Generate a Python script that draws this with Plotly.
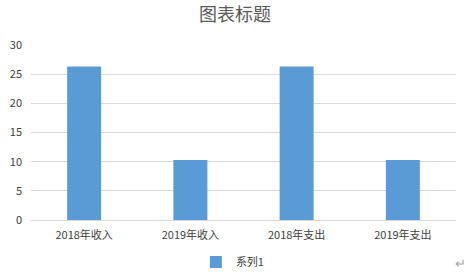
import plotly.graph_objects as go

categories = ["2018年收入", "2019年收入", "2018年支出", "2019年支出"]
values = [26.3, 10.3, 26.3, 10.3]
series_name = "系列1"
y_ticks = [0, 5, 10, 15, 20, 25, 30]

font_family = "Noto Sans CJK SC, Noto Sans, sans-serif"

fig = go.Figure()
fig.add_trace(go.Bar(x=categories, y=values, name=series_name,
                     marker=dict(color="#5B9BD5", line=dict(width=0)),
                     showlegend=True))

fig.update_layout(
    width=470, height=274,
    margin=dict(l=31, r=14, t=45, b=54, autoexpand=False),
    paper_bgcolor="white", plot_bgcolor="white",
    bargap=0.68,
    font=dict(family=font_family, size=11, color="#404040"),
    title=dict(text="图表标题", x=0.5, xanchor="center", y=1 - 15/274, yanchor="middle",
               yref="container", font=dict(size=18, color="#595959", family=font_family)),
    legend=dict(orientation="h", x=0.475, xanchor="center", yref="container",
                y=1 - 262/274, yanchor="middle", font=dict(size=11, color="#404040"),
                itemwidth=30),
    xaxis=dict(showgrid=False, showline=True, linecolor="#D9D9D9", linewidth=1,
               ticks="", tickfont=dict(size=11, color="#404040"), ticklabelstandoff=5,
               automargin=False),
    yaxis=dict(range=[0, 30], tickvals=y_ticks, showgrid=True, gridcolor="#D9D9D9",
               gridwidth=1, zeroline=False, showline=False, ticks="",
               tickfont=dict(size=11, color="#404040"), ticklabelstandoff=8,
               automargin=False),
)

fig.add_annotation(text="↵", xref="paper", yref="paper", x=1.0, y=-0.24,
                   xanchor="left", yanchor="middle", showarrow=False,
                   font=dict(size=13, color="#A6A6A6"), xshift=-3)

fig.write_html("out.html")
